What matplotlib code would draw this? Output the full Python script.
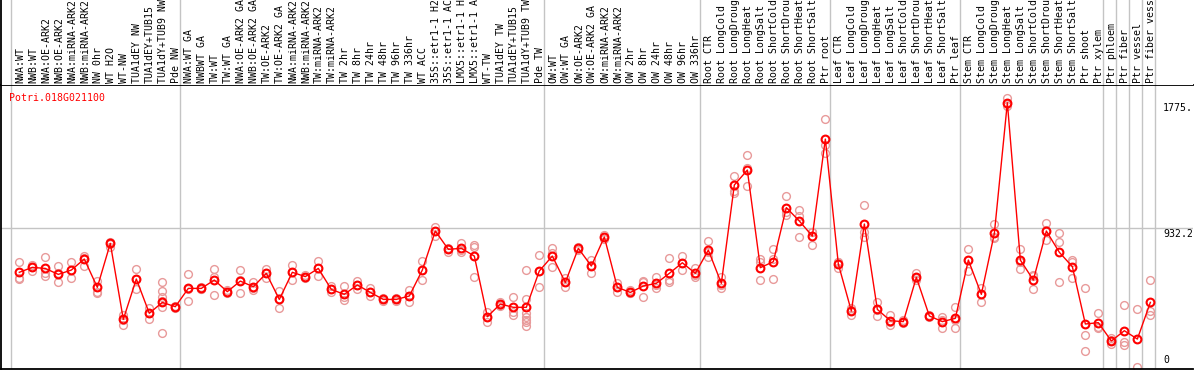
import matplotlib
matplotlib.use('Agg')
import matplotlib.pyplot as plt
import matplotlib.transforms as mtransforms
import numpy as np

gene = "Potri.018G021100"

labels = [
    "NWA:WT", "NWB:WT", "NWA:OE-ARK2", "NWB:OE-ARK2", "NWA:miRNA-ARK2", "NWB:miRNA-ARK2",
    "NW 0hr", "WT H2O", "WT-NW", "TUA1dEY NW", "TUA1dEY+TUB15", "TUA1dY+TUB9 NW", "Pde NW",
    "NWA:WT GA", "NWBWT GA", "TW:WT", "TW:WT GA", "NWA:OE-ARK2 GA", "NWB:OE-ARK2 GA",
    "TW:OE-ARK2", "TW:OE-ARK2 GA", "NWA:miRNA-ARK2", "NWB:miRNA-ARK2", "TW:miRNA-ARK2",
    "TW:miRNA-ARK2", "TW 2hr", "TW 8hr", "TW 24hr", "TW 48hr", "TW 96hr", "TW 336hr",
    "WT ACC", "35S::etr1-1 H2", "35S::etr1-1 AC", "LMX5::etr1-1 H", "LMX5::etr1-1 A",
    "WT-TW", "TUA1dEY TW", "TUA1dEY+TUB15", "TUA1dY+TUB9 TW", "Pde TW",
    "OW:WT", "OW:WT GA", "OW:OE-ARK2", "OW:OE-ARK2 GA", "OW:miRNA-ARK2", "OW:miRNA-ARK2",
    "OW 2hr", "OW 8hr", "OW 24hr", "OW 48hr", "OW 96hr", "OW 336hr",
    "Root CTR", "Root LongCold", "Root LongDroug", "Root LongHeat", "Root LongSalt",
    "Root ShortCold", "Root ShortDrou", "Root ShortHeat", "Root ShortSalt", "Ptr root",
    "Leaf CTR", "Leaf LongCold", "Leaf LongDroug", "Leaf LongHeat", "Leaf LongSalt",
    "Leaf ShortCold", "Leaf ShortDrou", "Leaf ShortHeat", "Leaf ShortSalt", "Ptr leaf",
    "Stem CTR", "Stem LongCold", "Stem LongDroug", "Stem LongHeat", "Stem LongSalt",
    "Stem ShortCold", "Stem ShortDrou", "Stem ShortHeat", "Stem ShortSalt", "Ptr shoot",
    "Ptr xylem", "Ptr phloem", "Ptr fiber", "Ptr vessel", "Ptr fiber vess",
]

group_sizes = [13, 28, 12, 10, 10, 11, 1, 1, 1, 1]

means = [
    637, 670, 663, 623, 652, 726, 536, 831, 321, 592, 362, 435, 406,
    529, 529, 585, 507, 578, 540, 630, 455, 637, 608, 663, 522, 489, 552, 502,
    455, 455, 478, 652, 914, 791, 798, 746, 339, 424, 402, 402, 646,
    746, 569, 798, 679, 874, 536, 502, 545, 563, 630, 701, 630,
    786, 563, 1223, 1323, 668, 708, 1071, 981, 880, 1531,
    692, 377, 961, 388, 312, 306, 603, 344, 306, 328,
    719, 489, 898, 1775, 719, 585, 914, 771, 675, 290, 299,
    176, 245, 189, 435,
]

replicates = [
    [704, 601, 592], [686, 648, 675], [737, 630, 612], [677, 630, 574], [706, 652, 596],
    [748, 735, 679], [581, 507, 496], [842, 825, 809], [350, 317, 283], [659, 592, 525],
    [395, 362, 321], [569, 514, 469, 444, 406, 227], [413, 406, 400],
    [623, 525, 444], [540, 525, 525], [659, 608, 485], [518, 507, 496], [652, 585, 496],
    [569, 534, 518], [657, 630, 596], [511, 455, 395], [686, 637, 585], [619, 608, 596],
    [713, 663, 614], [545, 522, 507], [545, 473, 451], [581, 552, 525], [529, 502, 480],
    [462, 455, 444], [462, 455, 444], [518, 478, 440], [713, 652, 585], [943, 914, 883],
    [798, 791, 775], [831, 786, 775], [820, 804, 603], [368, 339, 306], [440, 417, 413],
    [469, 373, 350], [652, 458, 362, 339, 317, 301, 279], [751, 646, 536],
    [798, 764, 675], [601, 569, 540], [809, 798, 786], [719, 686, 630], [887, 874, 860],
    [563, 536, 507], [518, 496, 496], [574, 578, 469], [603, 552, 534], [731, 585, 574],
    [748, 701, 652], [663, 619, 608],
    [847, 775, 737], [608, 552, 534], [1283, 1182, 1167], [1424, 1334, 1216], [726, 708, 585],
    [793, 726, 592], [1149, 1044, 1021], [1053, 1017, 876], [910, 910, 820], [1665, 1491, 1435],
    [708, 708, 663], [395, 384, 350], [1088, 910, 876], [440, 384, 344], [350, 306, 283],
    [317, 306, 294], [630, 596, 585], [350, 346, 335], [335, 317, 261], [406, 317, 261],
    [793, 719, 646], [534, 489, 440], [959, 876, 865], [1804, 1764, 1755], [793, 708, 657],
    [619, 614, 525], [965, 921, 854], [898, 838, 569], [719, 708, 596], [534, 216, 111],
    [362, 272, 261], [194, 183, 153], [417, 171, 149], [391, 0], [585, 379, 350],
]

ytick_values = [0, 932.2, 1775]
ytick_labels = ["0", "932.2", "1775."]

# ---------------------------------------------------------------
W, H = 1194, 370
fig = plt.figure(figsize=(W / 100, H / 100), dpi=100)
ax = fig.add_axes([1 / W, 1 / H, 1192 / W, 284 / H])
hax = fig.add_axes([1 / W, 285 / H, 1192 / W, 85 / H])

xs = np.arange(1, len(means) + 1)
XL = (-0.408, 91.28)
for a in (ax, hax):
    a.set_xlim(*XL)
    a.set_xticks([])
    a.set_yticks([])
    for s in a.spines.values():
        s.set_visible(False)
ax.set_ylim(-12, 1894)
hax.set_ylim(0, 1)

for side in ("left", "top", "bottom"):
    ax.spines[side].set_visible(True)
    ax.spines[side].set_linewidth(1.3)
    ax.spines[side].set_color("black")
hax.spines["left"].set_visible(True)
hax.spines["left"].set_linewidth(1.3)

grid_c = "#c4c4c4"
seps = [0.34] + [b + 0.36 for b in np.cumsum(group_sizes)]
for b in seps:
    ax.axvline(b, color=grid_c, lw=1, zorder=1)
    hax.axvline(b, color=grid_c, lw=1, zorder=1)
ax.axhline(ytick_values[1], color=grid_c, lw=1, zorder=1)

mono = "DejaVu Sans Mono"
fs = 7.1

# replicates
for x, reps in zip(xs, replicates):
    ax.plot([x] * len(reps), reps, "o", mfc="none", mec="#e89a9a", ms=5.6, mew=1.0,
            zorder=2)
# means
ax.plot(xs, means, "-", color="#ff0000", lw=1.0, zorder=3)
ax.plot(xs, means, "o", mfc="none", mec="#ff0000", ms=5.6, mew=1.5, zorder=4)

ax.annotate(gene, xy=(0, 1), xycoords="axes fraction", xytext=(6, -5.6),
            textcoords="offset points", color="#ff0000", fontsize=fs, family=mono,
            va="top", ha="left")

tr = mtransforms.blended_transform_factory(ax.transAxes, ax.transData)
for v, lab in zip(ytick_values, ytick_labels):
    if v == 0:
        ax.annotate(lab, xy=(0.9748, v), xycoords=tr, xytext=(0, 1.5),
                    textcoords="offset points", fontsize=fs, family=mono,
                    va="bottom", ha="left")
    else:
        ax.annotate(lab, xy=(0.9748, v), xycoords=tr, xytext=(0, -0.5),
                    textcoords="offset points", fontsize=fs, family=mono,
                    va="top", ha="left")

for x, lab in zip(xs, labels):
    hax.annotate(lab, xy=(x, 0), xycoords=("data", "axes fraction"), xytext=(0.6, 1.3),
                 textcoords="offset points", rotation=90, rotation_mode="anchor",
                 ha="left", va="center", fontsize=fs, family=mono, color="black")

fig.savefig("out.png", dpi=100)
